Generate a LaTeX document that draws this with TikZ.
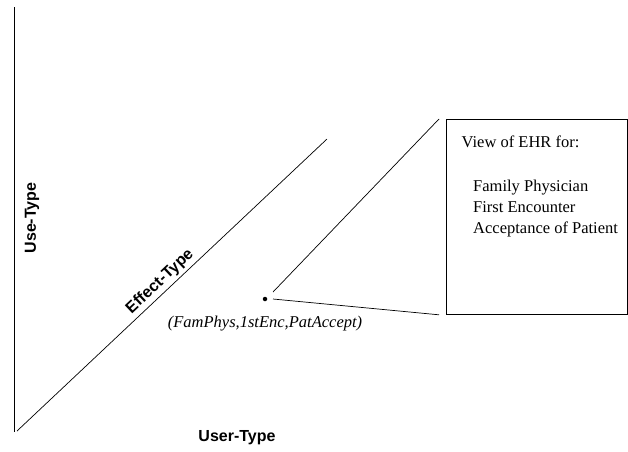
\documentclass[tikz,border=0pt]{standalone}
\usepackage{fontspec}
\setmainfont{Liberation Serif}
\newfontfamily\axisfont{Liberation Sans}
\usetikzlibrary{calc}
\begin{document}
\begin{tikzpicture}[x=1pt,y=-1pt,
  axisline/.style={line width=0.8pt,draw=black},
  thinline/.style={line width=0.7pt,draw=black},
  axislabel/.style={font=\axisfont\bfseries\fontsize{16}{19}\selectfont,inner sep=1pt},
  boxtext/.style={font=\fontsize{16.5}{21}\selectfont,anchor=base west,inner sep=0pt},
  viewbox/.style={draw=black,line width=0.8pt,minimum width=181pt,minimum height=195pt,anchor=north west,inner sep=0pt}]
\useasboundingbox (0,0) rectangle (628,451);
% axes
\coordinate (vtop) at (14,7);
\coordinate (vbot) at (14,432);
\coordinate (dstart) at (17,431);
\coordinate (dend) at (327,139);
\draw[axisline] (vtop) -- (vbot);
\draw[thinline] (dstart) -- (dend);
\node[axislabel,rotate=90] (usetype) at (32,218) {Use-Type};
\node[axislabel] (usertype) at (237,438) {User-Type};
\node[axislabel,rotate=43.3,anchor=south,inner sep=3pt] (effecttype) at ($(dstart)!0.485!(dend)$) {Effect-Type};
% point
\node[circle,fill=black,inner sep=0pt,minimum size=4.5pt] (pt) at (265,299) {};
\node[font=\itshape\fontsize{16.5}{20}\selectfont,anchor=base,inner sep=0pt] (tuple) at (265,327) {(FamPhys,1stEnc,PatAccept)};
% box
\node[viewbox] (box) at (446,119) {};
\node[boxtext] (t0) at (461.5,147) {View of EHR for:};
\node[boxtext] (t1) at (473,191) {Family Physician};
\node[boxtext] (t2) at (473,212) {First Encounter};
\node[boxtext] (t3) at (473,233) {Acceptance of Patient};
% connectors
\coordinate (upstart) at ($(pt)+(8,-7)$);
\coordinate (lostart) at ($(pt)+(8,0)$);
\draw[thinline] (upstart) -- ($(box.north west)+(-7,0)$);
\draw[thinline] (lostart) -- ($(box.south west)+(-7,0)$);
\end{tikzpicture}
\end{document}
